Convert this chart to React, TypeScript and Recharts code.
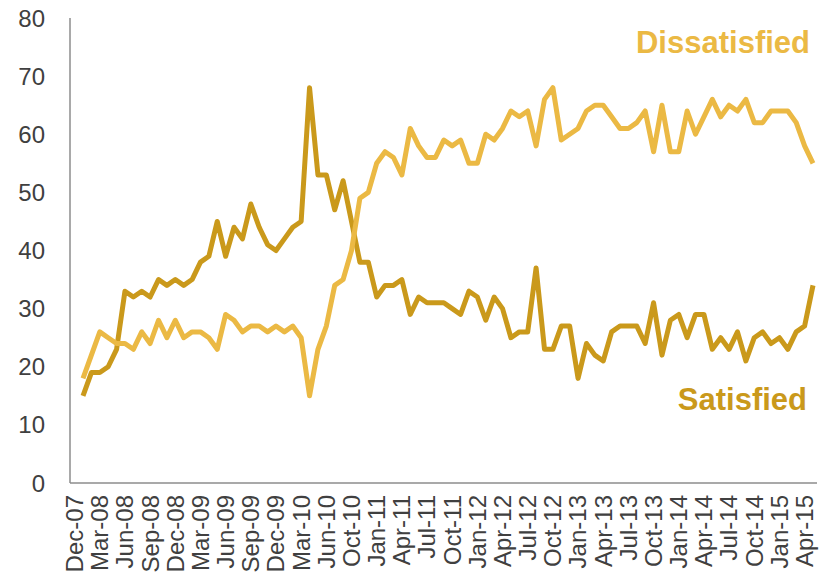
import React from 'react';
import { LineChart, Line, XAxis, YAxis } from 'recharts';

const months = [
  'Dec-07',
  'Jan-08', 'Feb-08', 'Mar-08', 'Apr-08', 'May-08', 'Jun-08', 'Jul-08', 'Aug-08', 'Sep-08', 'Oct-08', 'Nov-08', 'Dec-08',
  'Jan-09', 'Feb-09', 'Mar-09', 'Apr-09', 'May-09', 'Jun-09', 'Jul-09', 'Aug-09', 'Sep-09', 'Oct-09', 'Nov-09', 'Dec-09',
  'Jan-10', 'Feb-10', 'Mar-10', 'Apr-10', 'May-10', 'Jun-10', 'Aug-10', 'Sep-10', 'Oct-10', 'Nov-10', 'Dec-10',
  'Jan-11', 'Feb-11', 'Mar-11', 'Apr-11', 'May-11', 'Jun-11', 'Jul-11', 'Aug-11', 'Sep-11', 'Oct-11', 'Nov-11', 'Dec-11',
  'Jan-12', 'Feb-12', 'Mar-12', 'Apr-12', 'May-12', 'Jun-12', 'Jul-12', 'Aug-12', 'Sep-12', 'Oct-12', 'Nov-12', 'Dec-12',
  'Jan-13', 'Feb-13', 'Mar-13', 'Apr-13', 'May-13', 'Jun-13', 'Jul-13', 'Aug-13', 'Sep-13', 'Oct-13', 'Nov-13', 'Dec-13',
  'Jan-14', 'Feb-14', 'Mar-14', 'Apr-14', 'May-14', 'Jun-14', 'Jul-14', 'Aug-14', 'Sep-14', 'Oct-14', 'Nov-14', 'Dec-14',
  'Jan-15', 'Feb-15', 'Mar-15', 'Apr-15',
];

const dissatisfied = [
  18,
  22, 26, 25, 24, 24, 23, 26, 24, 28, 25, 28, 25,
  26, 26, 25, 23, 29, 28, 26, 27, 27, 26, 27, 26,
  27, 25, 15, 23, 27, 34, 35, 40, 49, 50, 55,
  57, 56, 53, 61, 58, 56, 56, 59, 58, 59, 55, 55,
  60, 59, 61, 64, 63, 64, 58, 66, 68, 59, 60, 61,
  64, 65, 65, 63, 61, 61, 62, 64, 57, 65, 57, 57,
  64, 60, 63, 66, 63, 65, 64, 66, 62, 62, 64, 64,
  64, 62, 58, 55,
];

const satisfied = [
  15,
  19, 19, 20, 23, 33, 32, 33, 32, 35, 34, 35, 34,
  35, 38, 39, 45, 39, 44, 42, 48, 44, 41, 40, 42,
  44, 45, 68, 53, 53, 47, 52, 45, 38, 38, 32,
  34, 34, 35, 29, 32, 31, 31, 31, 30, 29, 33, 32,
  28, 32, 30, 25, 26, 26, 37, 23, 23, 27, 27, 18,
  24, 22, 21, 26, 27, 27, 27, 24, 31, 22, 28, 29,
  25, 29, 29, 23, 25, 23, 26, 21, 25, 26, 24, 25,
  23, 26, 27, 34,
];

const yTicks = [0, 10, 20, 30, 40, 50, 60, 70, 80];

const data = months.map((m, i) => ({
  month: m,
  dissatisfied: dissatisfied[i],
  satisfied: satisfied[i],
}));

const FONT = '"Liberation Sans", Arial, sans-serif';
const TEXT_COLOR = '#404040';
const AXIS_COLOR = '#8c8c8c';
const DISSAT_COLOR = '#EBB944';
const SAT_COLOR = '#CA991B';

const XTick = (props: any) => {
  const { x, y, payload } = props;
  return (
    <text
      x={x}
      y={y}
      transform={`rotate(-90, ${x}, ${y})`}
      textAnchor="end"
      fontSize={24}
      fill={TEXT_COLOR}
      fontFamily={FONT}
    >
      {payload.value}
    </text>
  );
};

const YTick = (props: any) => {
  const { x, y, payload } = props;
  return (
    <text x={x} y={y} dy="0.355em" textAnchor="end" fontSize={24} fill={TEXT_COLOR} fontFamily={FONT}>
      {payload.value}
    </text>
  );
};

export default function App() {
  return (
    <div style={{ position: 'absolute', left: 0, top: 0, width: 829, height: 573, background: '#fff' }}>
      <LineChart
        width={829}
        height={573}
        data={data}
        margin={{ top: 18, right: 12, bottom: 0, left: 0 }}
      >
        <XAxis
          dataKey="month"
          interval={2}
          height={90}
          padding={{ left: 13, right: 4 }}
          tickLine={false}
          tickSize={0}
          tickMargin={12}
          axisLine={{ stroke: AXIS_COLOR, strokeWidth: 1.5 }}
          tick={<XTick />}
        />
        <YAxis
          width={70}
          domain={[0, 80]}
          ticks={yTicks}
          tickLine={false}
          tickSize={0}
          tickMargin={25}
          axisLine={{ stroke: AXIS_COLOR, strokeWidth: 1.5 }}
          tick={<YTick />}
        />
        <Line
          type="linear"
          dataKey="satisfied"
          stroke={SAT_COLOR}
          strokeWidth={5}
          strokeLinejoin="round"
          dot={false}
          activeDot={false}
          isAnimationActive={false}
        />
        <Line
          type="linear"
          dataKey="dissatisfied"
          stroke={DISSAT_COLOR}
          strokeWidth={5}
          strokeLinejoin="round"
          dot={false}
          activeDot={false}
          isAnimationActive={false}
        />
      </LineChart>
      <div
        style={{
          position: 'absolute',
          top: 27.1,
          right: 19,
          fontFamily: FONT,
          fontWeight: 'bold',
          fontSize: 31,
          lineHeight: 1,
          color: DISSAT_COLOR,
          whiteSpace: 'nowrap',
        }}
      >
        Dissatisfied
      </div>
      <div
        style={{
          position: 'absolute',
          top: 383.8,
          right: 22,
          fontFamily: FONT,
          fontWeight: 'bold',
          fontSize: 31,
          lineHeight: 1,
          color: SAT_COLOR,
          whiteSpace: 'nowrap',
        }}
      >
        Satisfied
      </div>
    </div>
  );
}
